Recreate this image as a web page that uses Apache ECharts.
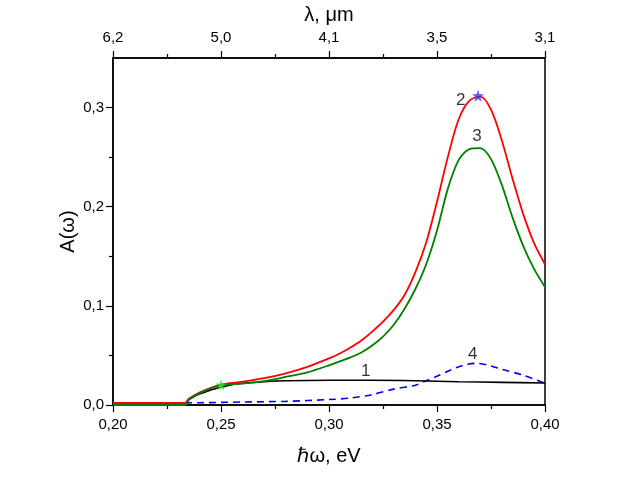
<!DOCTYPE html>
<html>
<head>
<meta charset="utf-8">
<script src="https://cdn.jsdelivr.net/npm/echarts@6/dist/echarts.min.js"></script>
<style>html,body{margin:0;padding:0;background:#fff}#c{width:634px;height:486px}</style>
</head>
<body>
<div id="c"></div>
<script>
// ---- data ----
const xTicks = [0.20, 0.25, 0.30, 0.35, 0.40];
const topTickLabels = ['6,2', '5,0', '4,1', '3,5', '3,1'];
const yTicks = [0.0, 0.1, 0.2, 0.3];
const yMinorTicks = [0.05, 0.15, 0.25];

const curve1X = [0.20, 0.2333, 0.235, 0.2375, 0.24, 0.245, 0.25, 0.255, 0.26, 0.27, 0.28, 0.30, 0.32, 0.34, 0.36, 0.38, 0.40];
const curve1Y = [0.0, 0.0, 0.005, 0.0085, 0.011, 0.015, 0.018, 0.0205, 0.022, 0.0235, 0.0245, 0.025, 0.025, 0.0245, 0.0235, 0.0228, 0.0222];

const curve2X = [0.20, 0.2333, 0.235, 0.2375, 0.24, 0.245, 0.25, 0.26, 0.27, 0.28, 0.29, 0.30, 0.305, 0.31, 0.315, 0.32, 0.325, 0.33, 0.335, 0.34, 0.345, 0.35, 0.355, 0.36, 0.365, 0.37, 0.375, 0.38, 0.385, 0.39, 0.395, 0.40];
const curve2Y = [0.002, 0.002, 0.006, 0.0095, 0.0125, 0.017, 0.0205, 0.0235, 0.027, 0.032, 0.0385, 0.047, 0.052, 0.058, 0.065, 0.074, 0.084, 0.096, 0.111, 0.134, 0.164, 0.205, 0.250, 0.288, 0.307, 0.311, 0.298, 0.267, 0.228, 0.192, 0.163, 0.142];

const curve3X = [0.20, 0.2333, 0.235, 0.2375, 0.24, 0.245, 0.25, 0.26, 0.27, 0.28, 0.29, 0.30, 0.305, 0.31, 0.315, 0.32, 0.325, 0.33, 0.335, 0.34, 0.345, 0.35, 0.355, 0.36, 0.365, 0.37, 0.375, 0.38, 0.385, 0.39, 0.395, 0.40];
const curve3Y = [0.0, 0.0, 0.0055, 0.009, 0.012, 0.0165, 0.020, 0.0215, 0.024, 0.0283, 0.033, 0.040, 0.044, 0.048, 0.053, 0.060, 0.069, 0.081, 0.097, 0.117, 0.142, 0.176, 0.218, 0.247, 0.258, 0.259, 0.248, 0.222, 0.189, 0.160, 0.137, 0.119];

const curve4X = [0.20, 0.22, 0.24, 0.26, 0.28, 0.30, 0.31, 0.32, 0.33, 0.34, 0.345, 0.35, 0.356, 0.362, 0.368, 0.374, 0.38, 0.39, 0.40];
const curve4Y = [0.002, 0.002, 0.0023, 0.003, 0.0037, 0.0055, 0.007, 0.0105, 0.016, 0.020, 0.0245, 0.029, 0.035, 0.040, 0.042, 0.040, 0.036, 0.030, 0.022];

const starBlue = [0.369, 0.312];
const starGreen = [0.25, 0.0205];

const curveLabelX = [0.317, 0.361, 0.3685, 0.3665];
const curveLabelY = [0.034, 0.307, 0.271, 0.051];
const curveLabelText = ['1', '2', '3', '4'];

// ---- chart ----
const FONT = 'Arial, "Liberation Sans", sans-serif';
const pair = (xs, ys) => xs.map((x, i) => [x, ys[i]]);
const fmtComma = (v, d) => v.toFixed(d).replace('.', ',');
const STAR = 'path://M50,0 L61,35 L98,35 L68,57 L79,91 L50,70 L21,91 L32,57 L2,35 L39,35 Z';

const chart = echarts.init(document.getElementById('c'), null, {renderer: 'canvas'});
const lineBase = {type: 'line', showSymbol: false, symbol: 'none', smooth: 0.3, animation: false, z: 3};
const tickStyle = {color: '#000', width: 1.2};

chart.setOption({
  animation: false,
  backgroundColor: '#fff',
  grid: {left: 113, right: 89, top: 55, bottom: 81, show: true, borderColor: '#000', borderWidth: 1.5, backgroundColor: 'transparent'},
  xAxis: [
    {
      type: 'value', position: 'bottom', min: 0.2, max: 0.4, interval: 0.05,
      name: 'ℏω, eV', nameLocation: 'middle', nameGap: 41, nameMoveOverlap: false,
      nameTextStyle: {fontFamily: FONT, fontSize: 20, color: '#000'},
      axisLine: {show: true, onZero: false, lineStyle: {color: '#000', width: 1.5}},
      axisTick: {show: true, inside: false, length: 7, lineStyle: tickStyle},
      minorTick: {show: true, splitNumber: 2, length: 4, lineStyle: tickStyle},
      splitLine: {show: false},
      axisLabel: {fontFamily: FONT, fontSize: 15, color: '#000', margin: 12, formatter: v => fmtComma(v, 2)}
    },
    {
      type: 'value', position: 'top', min: 0.2, max: 0.4, interval: 0.05,
      name: 'λ, μm', nameLocation: 'middle', nameGap: 33, nameMoveOverlap: false,
      nameTextStyle: {fontFamily: FONT, fontSize: 20, color: '#000'},
      axisLine: {show: true, onZero: false, lineStyle: {color: '#000', width: 1.5}},
      axisTick: {show: true, inside: false, length: 7, lineStyle: tickStyle},
      minorTick: {show: true, splitNumber: 2, length: 4, lineStyle: tickStyle},
      splitLine: {show: false},
      axisLabel: {fontFamily: FONT, fontSize: 15, color: '#000', margin: 13,
        formatter: v => { const i = xTicks.findIndex(t => Math.abs(t - v) < 1e-6); return i >= 0 ? topTickLabels[i] : ''; }}
    }
  ],
  yAxis: [
    {
      type: 'value', position: 'left', min: 0, max: 0.35,
      name: 'A(ω)', nameLocation: 'middle', nameGap: 35, nameRotate: 90, nameMoveOverlap: false,
      nameTextStyle: {fontFamily: FONT, fontSize: 20, color: '#000'},
      axisLine: {show: true, onZero: false, lineStyle: {color: '#000', width: 1.5}},
      axisTick: {show: true, inside: false, length: 7, customValues: yTicks, lineStyle: tickStyle},
      splitLine: {show: false},
      axisLabel: {fontFamily: FONT, fontSize: 15, color: '#000', margin: 9, customValues: yTicks, formatter: v => fmtComma(v, 1)}
    },
    {
      type: 'value', position: 'left', min: 0, max: 0.35, offset: 0,
      axisLine: {show: true, onZero: false, lineStyle: {color: 'rgba(0,0,0,0)', width: 0}},
      axisTick: {show: true, inside: false, length: 4, customValues: yMinorTicks, lineStyle: tickStyle},
      splitLine: {show: false},
      axisLabel: {show: false}
    }
  ],
  series: [
    Object.assign({}, lineBase, {name: '4', data: pair(curve4X, curve4Y), lineStyle: {color: '#0000ff', width: 1.6, type: [7, 5]}, z: 2}),
    Object.assign({}, lineBase, {name: '1', data: pair(curve1X, curve1Y), lineStyle: {color: '#000000', width: 1.6}}),
    Object.assign({}, lineBase, {name: '2', data: pair(curve2X, curve2Y), lineStyle: {color: '#ff0000', width: 1.8}}),
    Object.assign({}, lineBase, {name: '3', data: pair(curve3X, curve3Y), lineStyle: {color: '#008000', width: 1.8}}),
    {type: 'scatter', data: [starBlue], symbol: STAR, symbolSize: 12, itemStyle: {color: '#3333ff'}, z: 5, silent: true},
    {type: 'scatter', data: [starGreen], symbol: STAR, symbolSize: 11, itemStyle: {color: '#33dd33'}, z: 5, silent: true},
    {type: 'scatter', symbolSize: 1, itemStyle: {color: 'rgba(0,0,0,0)'}, z: 6, silent: true,
      data: curveLabelX.map((x, i) => ({value: [x, curveLabelY[i]], label: {show: true, formatter: curveLabelText[i], position: 'inside', fontFamily: FONT, fontSize: 17, color: '#000', textBorderWidth: 0, textBorderColor: 'transparent'}}))}
  ]
});
</script>
</body>
</html>
